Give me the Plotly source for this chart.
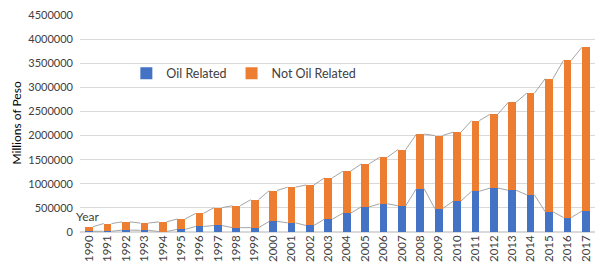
import plotly.graph_objects as go

years = [str(y) for y in range(1990, 2018)]
oil_related = [15000, 15000, 40000, 35000, 10000, 55000, 115000, 135000, 90000, 90000,
               220000, 190000, 135000, 265000, 390000, 520000, 585000, 545000, 900000, 485000,
               640000, 845000, 910000, 865000, 770000, 420000, 300000, 435000]
totals = [110000, 175000, 210000, 185000, 210000, 270000, 385000, 505000, 545000, 670000,
          860000, 930000, 975000, 1120000, 1260000, 1410000, 1550000, 1710000, 2030000, 2000000,
          2070000, 2310000, 2440000, 2690000, 2880000, 3180000, 3560000, 3830000]
not_oil_related = [t - o for t, o in zip(totals, oil_related)]

BLUE = "#4472C4"
ORANGE = "#ED7D31"
GREY_LINE = "#A5A5A5"
BW = 0.42
FONT = "Lato, Carlito, Arial, sans-serif"
TXT = "#404040"

xs = list(range(len(years)))

fig = go.Figure()
fig.add_trace(go.Bar(x=xs, y=oil_related, name="Oil Related", marker_color=BLUE,
                     width=BW, marker_line_width=0))
fig.add_trace(go.Bar(x=xs, y=not_oil_related, name="Not Oil Related", marker_color=ORANGE,
                     width=BW, marker_line_width=0))

def series_line(tops):
    lx, ly = [], []
    for i in range(len(tops) - 1):
        lx += [xs[i] + BW / 2, xs[i + 1] - BW / 2, None]
        ly += [tops[i], tops[i + 1], None]
    return lx, ly

for tops in (oil_related, totals):
    lx, ly = series_line(tops)
    fig.add_trace(go.Scatter(x=lx, y=ly, mode="lines", line=dict(color=GREY_LINE, width=1),
                             showlegend=False, hoverinfo="skip"))

fig.update_layout(
    width=611, height=276,
    margin=dict(l=72, r=24, t=7, b=52),
    barmode="stack",
    plot_bgcolor="white", paper_bgcolor="white",
    font=dict(family=FONT, size=11, color=TXT),
    legend=dict(orientation="h", x=0.09, y=0.73, xanchor="left", yanchor="middle",
                font=dict(size=12.5, color=TXT), bgcolor="rgba(0,0,0,0)",
                itemwidth=30, traceorder="normal"),
    xaxis=dict(tickmode="array", tickvals=xs, ticktext=years, tickangle=-90,
               range=[-0.5, len(years) - 0.5], showgrid=False, zeroline=False,
               showline=False, ticks="", automargin=False,
               tickfont=dict(size=11.5, color=TXT)),
    yaxis=dict(range=[0, 4500000], dtick=500000, tickformat="d", showgrid=True,
               gridcolor="#D9D9D9", gridwidth=1, zeroline=True, zerolinecolor="#D9D9D9",
               showline=False, ticks="", automargin=False, ticklabelstandoff=6,
               ticklabeloverflow="allow", tickfont=dict(size=11, color=TXT)),
    bargap=0.58,
    annotations=[
        dict(text="Year", x=(87 - 80) / 515, y=330000, xref="paper", yref="y",
             xanchor="center", yanchor="middle", showarrow=False,
             font=dict(size=12, color=TXT)),
        dict(text="Millions of Peso", x=(16 - 80) / 515, y=0.5, xref="paper", yref="paper",
             xanchor="center", yanchor="middle", textangle=-90, showarrow=False,
             font=dict(size=12, color="#000000")),
    ],
)

fig.write_html("out.html")
